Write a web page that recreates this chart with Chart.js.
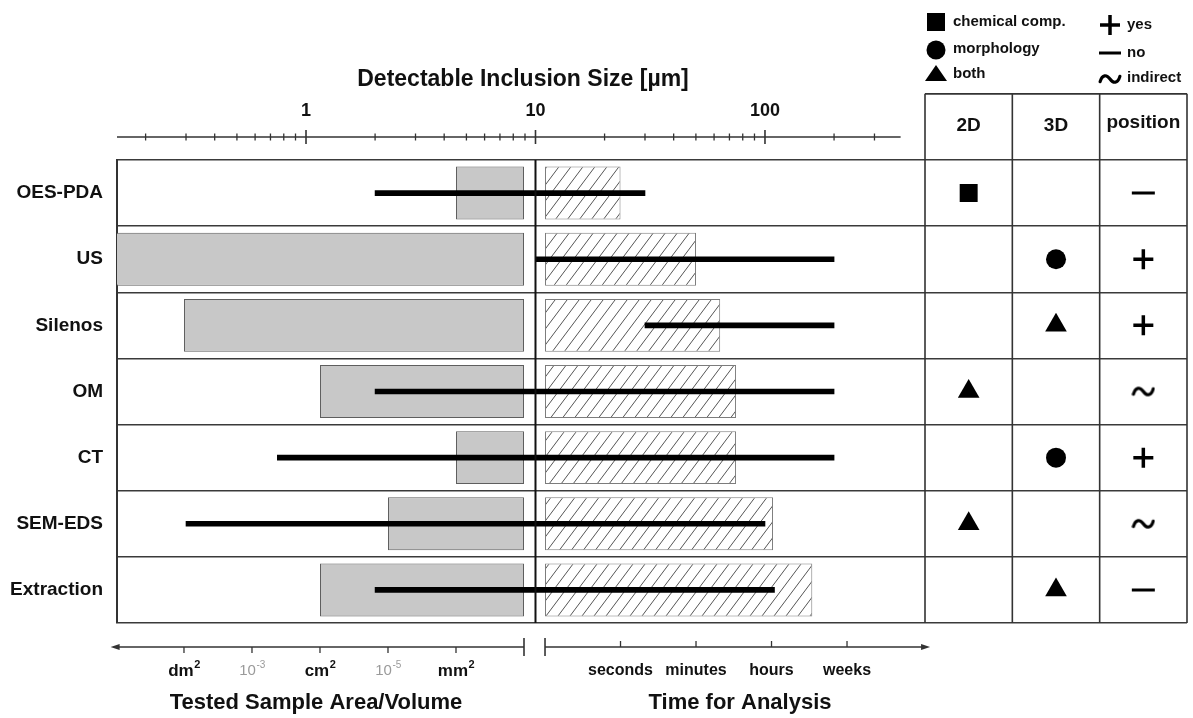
<!DOCTYPE html>
<html>
<head>
<meta charset="utf-8">
<title>Inclusion detection methods</title>
<script src="https://cdn.jsdelivr.net/npm/chart.js@4.4.1/dist/chart.umd.min.js"></script>
<style>
  html, body { margin: 0; padding: 0; background: #fff; }
  #wrap { position: relative; width: 1193px; height: 718px; }
</style>
</head>
<body>
<div id="wrap"><canvas id="chart" width="1193" height="718"></canvas></div>
<script>
const methods = ["OES-PDA", "US", "Silenos", "OM", "CT", "SEM-EDS", "Extraction"];

// detectable inclusion size [µm], black lines
const sizeMin = [2, 10, 30, 2, 0.75, 0.3, 2];
const sizeMax = [30, 200, 200, 200, 200, 100, 110];

// tested sample area/volume [m²], grey bars (from largest down to a common end)
const sampleAreaFrom = [1e-6, 1e-1, 1e-2, 1e-4, 1e-6, 1e-5, 1e-4];
const sampleAreaTo = 1e-7;

// time for analysis, hatched bars (1 = seconds, 2 = minutes, 3 = hours, 4 = weeks)
const analysisTime = [1, 2, 2.32, 2.53, 2.53, 3.02, 3.54];

// table columns
const info2D = ["chemical", null, null, "both", null, "both", null];
const info3D = [null, "morphology", "both", null, "morphology", null, "both"];
const positionInfo = ["no", "yes", "yes", "indirect", "yes", "indirect", "no"];
const tableHeaders = ["2D", "3D", "position"];

// axis ticks
const sizeMajorTicks = [1, 10, 100];
const sizeMinorTicks = [0.2, 0.3, 0.4, 0.5, 0.6, 0.7, 0.8, 0.9, 2, 3, 4, 5, 6, 7, 8, 9, 20, 30, 40, 50, 60, 70, 80, 90, 200, 300];
const sizeAxisEnd = 390;
const areaTicks = [1e-2, 1e-3, 1e-4, 1e-5, 1e-6];
const areaTickLabels = [["dm", "2"], ["10", "-3"], ["cm", "2"], ["10", "-5"], ["mm", "2"]];
const areaTickGrey = [false, true, false, true, false];
const areaAxisEnd = 0.12;
const timeTicks = [1, 2, 3, 4];
const timeTickLabels = ["seconds", "minutes", "hours", "weeks"];
const timeAxisEnd = 5.1;

const FONT = "'Liberation Sans', Arial, sans-serif";

function hatchPattern() {
  const w = 12, h = 16;
  const c = document.createElement("canvas");
  c.width = w; c.height = h;
  const g = c.getContext("2d");
  g.fillStyle = "#fff";
  g.fillRect(0, 0, w, h);
  g.strokeStyle = "#555";
  g.lineWidth = 1;
  g.beginPath();
  for (let k = -1; k <= 1; k++) {
    g.moveTo(k * w, h);
    g.lineTo(k * w + w, 0);
  }
  g.stroke();
  return g.createPattern(c, "repeat");
}

function tildeImage(w, h, lw) {
  const c = document.createElement("canvas");
  c.width = w; c.height = h;
  const g = c.getContext("2d");
  g.strokeStyle = "#000";
  g.lineWidth = lw;
  g.lineCap = "round";
  g.beginPath();
  g.moveTo(lw / 2 + 0.5, h * 0.72);
  g.bezierCurveTo(w * 0.18, h * 0.1, w * 0.36, h * 0.12, w * 0.5, h * 0.5);
  g.bezierCurveTo(w * 0.64, h * 0.88, w * 0.82, h * 0.9, w - lw / 2 - 0.5, h * 0.28);
  g.stroke();
  return c;
}

const tilde = tildeImage(24, 12, 3.2);

function marks(list, value, col) {
  const out = [];
  list.forEach((v, i) => {
    if (v === value) out.push({ x: col, y: methods[i] });
  });
  return out;
}

function markerSet(label, pts, style, radius, extra) {
  return Object.assign({
    type: "scatter",
    label: label,
    xAxisID: "tbl",
    yAxisID: "y",
    data: pts,
    pointStyle: style,
    pointRadius: radius,
    backgroundColor: "#000",
    borderColor: "#000",
    borderWidth: 0,
    order: 0
  }, extra || {});
}

function text(ctx, str, x, y, font, color, align) {
  ctx.font = font;
  ctx.fillStyle = color || "#111";
  ctx.textAlign = align || "center";
  ctx.textBaseline = "middle";
  ctx.fillText(str, x, y);
}

function supText(ctx, base, sup, x, y, size, weight, color) {
  const f1 = weight + " " + size + "px " + FONT;
  const f2 = weight + " " + Math.round(size * 0.65) + "px " + FONT;
  ctx.font = f1;
  const w1 = ctx.measureText(base).width;
  ctx.font = f2;
  const w2 = ctx.measureText(sup).width;
  const x0 = x - (w1 + w2) / 2;
  text(ctx, base, x0, y, f1, color, "left");
  text(ctx, sup, x0 + w1 + 0.5, y - size * 0.38, f2, color, "left");
}

function line(ctx, x1, y1, x2, y2, w, color) {
  ctx.beginPath();
  ctx.lineWidth = w;
  ctx.strokeStyle = color;
  ctx.moveTo(x1, y1);
  ctx.lineTo(x2, y2);
  ctx.stroke();
}

const decorations = {
  id: "decorations",
  afterDraw(chart) {
    const ctx = chart.ctx;
    const area = chart.chartArea;
    const sx = chart.scales.size;
    const ax = chart.scales.area;
    const tx = chart.scales.time;
    const tb = chart.scales.tbl;
    const ys = chart.scales.y;
    const rowH = ys.getPixelForValue(1) - ys.getPixelForValue(0);
    ctx.save();

    // divider at 10 µm
    const xDiv = sx.getPixelForValue(10);
    line(ctx, xDiv, area.top, xDiv, area.bottom, 2, "#111");

    // table verticals + header box
    const headTop = area.top - rowH;
    [-0.5, 0.5, 1.5, 2.5].forEach(v => {
      const px = tb.getPixelForValue(v);
      line(ctx, px, headTop, px, area.bottom, 1.6, "#333");
    });
    line(ctx, tb.getPixelForValue(-0.5), headTop, tb.getPixelForValue(2.5), headTop, 1.6, "#333");
    tableHeaders.forEach((h, i) => {
      text(ctx, h, tb.getPixelForValue(i), headTop + rowH / 2 + (i === 2 ? -4 : -1),
        "bold 19px " + FONT, "#111");
    });

    // top axis: inclusion size
    const yTop = area.top - 23;
    line(ctx, area.left, yTop, sx.getPixelForValue(sizeAxisEnd), yTop, 1.5, "#333");
    sizeMinorTicks.forEach(v => {
      const px = sx.getPixelForValue(v);
      line(ctx, px, yTop - 3.5, px, yTop + 3.5, 1.3, "#333");
    });
    sizeMajorTicks.forEach(v => {
      const px = sx.getPixelForValue(v);
      line(ctx, px, yTop - 7, px, yTop + 7, 1.6, "#333");
      text(ctx, String(v), px, yTop - 26, "bold 18px " + FONT, "#111");
    });
    text(ctx, "Detectable Inclusion Size [\u00b5m]", 523, 80, "bold 23px " + FONT, "#111");

    // bottom axes
    const yBot = area.bottom + 24;
    const aEnd = ax.getPixelForValue(sampleAreaTo);
    const aTip = ax.getPixelForValue(areaAxisEnd);
    line(ctx, aTip + 4, yBot, aEnd, yBot, 1.5, "#333");
    ctx.beginPath();
    ctx.fillStyle = "#333";
    ctx.moveTo(aTip, yBot);
    ctx.lineTo(aTip + 9, yBot - 3);
    ctx.lineTo(aTip + 9, yBot + 3);
    ctx.closePath();
    ctx.fill();
    line(ctx, aEnd, yBot - 9, aEnd, yBot + 9, 1.6, "#333");
    areaTicks.forEach((v, i) => {
      const px = ax.getPixelForValue(v);
      line(ctx, px, yBot, px, yBot + 6, 1.3, "#333");
      const grey = areaTickGrey[i];
      supText(ctx, areaTickLabels[i][0], areaTickLabels[i][1], px, yBot + 24,
        grey ? 15 : 17, grey ? "normal" : "bold", grey ? "#9a9a9a" : "#111");
    });

    const tStart = tx.getPixelForValue(0);
    const tTip = tx.getPixelForValue(timeAxisEnd);
    line(ctx, tStart, yBot, tTip - 4, yBot, 1.5, "#333");
    ctx.beginPath();
    ctx.fillStyle = "#333";
    ctx.moveTo(tTip, yBot);
    ctx.lineTo(tTip - 9, yBot - 3);
    ctx.lineTo(tTip - 9, yBot + 3);
    ctx.closePath();
    ctx.fill();
    line(ctx, tStart, yBot - 9, tStart, yBot + 9, 1.6, "#333");
    timeTicks.forEach((v, i) => {
      const px = tx.getPixelForValue(v);
      line(ctx, px, yBot - 6, px, yBot, 1.3, "#333");
      text(ctx, timeTickLabels[i], px, yBot + 24, "bold 16px " + FONT, "#111");
    });

    text(ctx, "Tested Sample Area/Volume", 316, 703, "bold 22px " + FONT, "#111");
    text(ctx, "Time for Analysis", 740, 703, "bold 22px " + FONT, "#111");

    // legend
    ctx.fillStyle = "#000";
    ctx.fillRect(927, 13, 18, 18);
    ctx.beginPath();
    ctx.arc(936, 50, 9.5, 0, Math.PI * 2);
    ctx.fill();
    ctx.beginPath();
    ctx.moveTo(925, 81);
    ctx.lineTo(947, 81);
    ctx.lineTo(936, 65);
    ctx.closePath();
    ctx.fill();
    text(ctx, "chemical comp.", 953, 22, "bold 15px " + FONT, "#111", "left");
    text(ctx, "morphology", 953, 49, "bold 15px " + FONT, "#111", "left");
    text(ctx, "both", 953, 74, "bold 15px " + FONT, "#111", "left");

    line(ctx, 1100, 25, 1120, 25, 3.5, "#000");
    line(ctx, 1110, 15, 1110, 35, 3.5, "#000");
    line(ctx, 1099, 53, 1121, 53, 3, "#000");
    ctx.drawImage(tilde, 1098, 73);
    text(ctx, "yes", 1127, 25, "bold 15px " + FONT, "#111", "left");
    text(ctx, "no", 1127, 53, "bold 15px " + FONT, "#111", "left");
    text(ctx, "indirect", 1127, 78, "bold 15px " + FONT, "#111", "left");

    ctx.restore();
  }
};

const hidden = { display: false, drawTicks: false };

const chart = new Chart(document.getElementById("chart"), {
  type: "bar",
  data: {
    labels: methods,
    datasets: [
      {
        label: "Tested Sample Area/Volume",
        indexAxis: "y",
        xAxisID: "area",
        yAxisID: "y",
        data: methods.map((m, i) => [sampleAreaFrom[i], sampleAreaTo]),
        backgroundColor: "#c8c8c8",
        borderColor: "#5e5e5e",
        borderWidth: 1,
        borderSkipped: false,
        barPercentage: 0.8,
        categoryPercentage: 1,
        grouped: false,
        order: 3
      },
      {
        label: "Time for Analysis",
        indexAxis: "y",
        xAxisID: "time",
        yAxisID: "y",
        data: analysisTime.map(t => [0, t]),
        backgroundColor: hatchPattern(),
        borderColor: "#7c7c7c",
        borderWidth: 1,
        borderSkipped: false,
        barPercentage: 0.8,
        categoryPercentage: 1,
        grouped: false,
        order: 2
      },
      {
        label: "Detectable Inclusion Size",
        indexAxis: "y",
        xAxisID: "size",
        yAxisID: "y",
        data: sizeMin.map((v, i) => [v, sizeMax[i]]),
        backgroundColor: "#000",
        borderWidth: 0,
        barThickness: 5,
        grouped: false,
        order: 1
      },
      markerSet("chemical comp. 2D", marks(info2D, "chemical", 0), "rect", 12.7),
      markerSet("morphology 3D", marks(info3D, "morphology", 1), "circle", 10),
      markerSet("both 2D", marks(info2D, "both", 0).concat(marks(info3D, "both", 1)), "triangle", 12.5),
      markerSet("yes", marks(positionInfo, "yes", 2), "cross", 10, { borderWidth: 3.5 }),
      markerSet("no", marks(positionInfo, "no", 2), "line", 11.5, { borderWidth: 3 }),
      markerSet("indirect", marks(positionInfo, "indirect", 2), tilde, 10)
    ]
  },
  options: {
    responsive: false,
    animation: false,
    events: [],
    indexAxis: "y",
    layout: { autoPadding: false, padding: { left: 0, right: 6, top: 160, bottom: 95 } },
    plugins: {
      legend: { display: false },
      tooltip: { enabled: false }
    },
    scales: {
      y: {
        type: "category",
        axis: "y",
        position: "left",
        offset: true,
        grid: { offset: true, color: "#3a3a3a", lineWidth: 1.5, drawTicks: false },
        border: { display: true, color: "#333", width: 2 },
        ticks: { font: { family: FONT, size: 19, weight: "bold" }, color: "#111", padding: 14 },
        afterFit: s => { s.width = 117; }
      },
      size: { type: "logarithmic", axis: "x", position: "top", display: false, ticks: { display: false }, grid: hidden, min: 0.1501, max: 6902 },
      area: { type: "logarithmic", axis: "x", position: "bottom", display: false, ticks: { display: false }, grid: hidden, reverse: true, min: 1.78e-17, max: 0.0966 },
      time: { type: "linear", axis: "x", position: "bottom", display: false, ticks: { display: false }, grid: hidden, min: -5.669, max: 8.503 },
      tbl: { type: "linear", axis: "x", position: "bottom", display: false, ticks: { display: false }, grid: hidden, min: -9.752, max: 2.5 }
    }
  },
  plugins: [decorations]
});
</script>
</body>
</html>
